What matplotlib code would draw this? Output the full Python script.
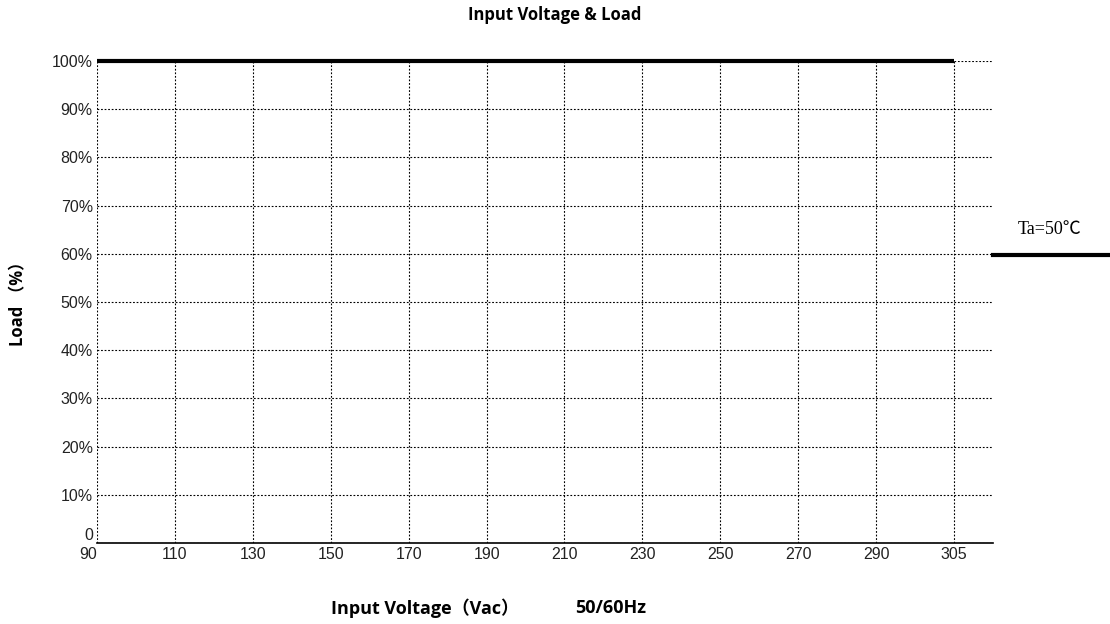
import matplotlib.pyplot as plt
from matplotlib.lines import Line2D

# chart data
voltage_labels = ['90', '110', '130', '150', '170', '190', '210', '230', '250', '270', '290', '305']
load_pct = [100, 100, 100, 100, 100, 100, 100, 100, 100, 100, 100, 100]
y_ticks = [0, 10, 20, 30, 40, 50, 60, 70, 80, 90, 100]
y_labels = ['0', '10%', '20%', '30%', '40%', '50%', '60%', '70%', '80%', '90%', '100%']
series_name = 'Ta=50\u2103'

xpos = list(range(len(voltage_labels)))

fig = plt.figure(figsize=(11.1, 6.24), dpi=100)
ax = fig.add_axes([97 / 1110, 81 / 624, 896 / 1110, 482 / 624])

ax.plot(xpos, load_pct, color='black', lw=3, solid_capstyle='butt', zorder=3, clip_on=False)

ax.set_xlim(0, len(voltage_labels) - 0.5)
ax.set_ylim(0, 100)
ax.set_xticks(xpos)
ax.set_xticklabels(voltage_labels, family='Liberation Sans', fontsize=11.5, color='#222222')
ax.set_yticks(y_ticks)
ax.set_yticklabels(y_labels, family='Liberation Sans', fontsize=11.5, color='#222222')
ax.tick_params(length=0, pad=3)
# first labels sit clear of the corner, as in the original
ax.get_xticklabels()[0].set_ha('right')
ax.get_yticklabels()[0].set_va('bottom')

ax.grid(True, color='black', lw=0.8, linestyle=(0, (1.6, 1.6)))
for s in ['top', 'right', 'left']:
    ax.spines[s].set_visible(False)
ax.spines['bottom'].set_linewidth(1.2)

fig.text(0.5, 1 - 15 / 624, 'Input Voltage & Load', ha='center', va='center',
         fontsize=12, fontweight='bold', family='Open Sans')
fig.text(425 / 1110, 1 - 608 / 624, 'Input Voltage\uff08Vac\uff09', ha='center', va='center',
         fontsize=13, fontweight='bold', family=['Open Sans', 'Noto Sans CJK SC'])
fig.text(611 / 1110, 1 - 608 / 624, '50/60Hz', ha='center', va='center',
         fontsize=13, fontweight='bold', family='Open Sans')
fig.text(18 / 1110, 1 - 300 / 624, 'Load \uff08%\uff09', ha='center', va='center', rotation=90,
         fontsize=12, fontweight='bold', family=['Open Sans', 'Noto Sans CJK SC'])

# legend on the right
fig.text(1050 / 1110, 1 - 229 / 624, series_name, ha='center', va='center',
         fontsize=13, family=['Liberation Serif', 'Noto Sans CJK SC'])
fig.add_artist(Line2D([993 / 1110, 1.0], [1 - 255 / 624, 1 - 255 / 624], color='black', lw=3))

fig.savefig('out.png', dpi=100)
